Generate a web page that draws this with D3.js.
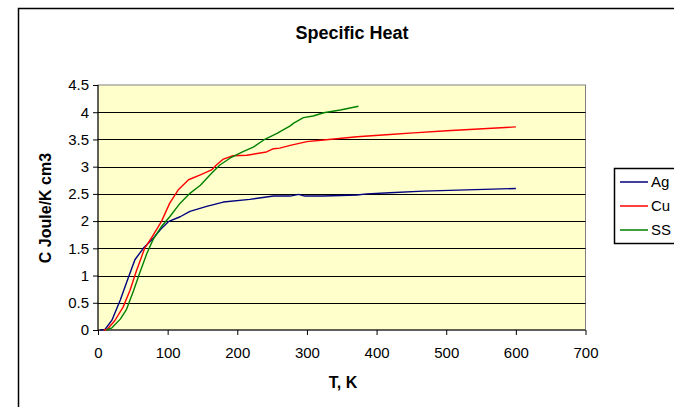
<!DOCTYPE html>
<html><head><meta charset="utf-8">
<script src="https://cdn.jsdelivr.net/npm/d3@7"></script>
<style>body{margin:0;background:#fff}svg{display:block}text{font-family:"Liberation Sans",Arial,sans-serif}</style>
</head><body>
<svg id="c" width="674" height="407"></svg>
<script>
const xTicks = [0,100,200,300,400,500,600,700];
const yTicks = [0,0.5,1,1.5,2,2.5,3,3.5,4,4.5];
const seriesNames = ["Ag","Cu","SS"];
const seriesColors = ["#000080","#FF0000","#008000"];
const agT = [3,10,20,32,44,53,65,79,90,101,118,132,156,180,218,252,276,288,297,324,372,386,419,467,600];
const agC = [0,0.01,0.18,0.55,0.98,1.29,1.50,1.68,1.85,1.99,2.08,2.18,2.27,2.35,2.40,2.46,2.46,2.49,2.46,2.46,2.48,2.50,2.52,2.55,2.60];
const cuT = [8,13,24,36,46,55,67,79,91,103,115,130,147,163,170,180,194,214,242,252,261,276,300,324,372,419,453,501,600];
const cuC = [0,0.01,0.17,0.42,0.73,1.08,1.50,1.74,1.99,2.33,2.57,2.76,2.85,2.94,3.03,3.14,3.20,3.21,3.27,3.33,3.34,3.39,3.46,3.49,3.55,3.59,3.62,3.66,3.73];
const ssT = [12,20,32,41,51,60,70,79,91,103,118,132,147,161,175,190,209,223,238,257,276,281,295,309,324,348,374];
const ssC = [0,0.04,0.20,0.38,0.72,1.05,1.40,1.66,1.90,2.08,2.33,2.51,2.66,2.85,3.03,3.16,3.28,3.36,3.49,3.61,3.75,3.80,3.90,3.93,3.99,4.04,4.11];

const series = [[agT,agC],[cuT,cuC],[ssT,ssC]].map((s,i)=>({name:seriesNames[i],color:seriesColors[i],pts:s[0].map((t,j)=>[t,s[1][j]])}));

const svg = d3.select("#c");
const L=98, R=585.5, T=85, B=330;
const x = d3.scaleLinear().domain([0,700]).range([L,R]);
const y = d3.scaleLinear().domain([0,4.5]).range([B,T]);

svg.append("rect").attr("x",18.5).attr("y",8.5).attr("width",700).attr("height",450)
  .attr("fill","#fff").attr("stroke","#000").attr("stroke-width",1.5);

svg.append("text").attr("x",352).attr("y",39).attr("text-anchor","middle")
  .attr("font-size",18).attr("font-weight","bold").text("Specific Heat");

svg.append("rect").attr("x",L).attr("y",T).attr("width",R-L).attr("height",B-T)
  .attr("fill","#FFFFCC").attr("stroke","#808080").attr("stroke-width",1);

svg.append("g").selectAll("line").data(yTicks.filter(d=>d>0&&d<4.5)).join("line")
  .attr("x1",L).attr("x2",R).attr("y1",d=>Math.round(y(d))+0.5).attr("y2",d=>Math.round(y(d))+0.5)
  .attr("stroke","#000").attr("stroke-width",1);

const yAxis = d3.axisLeft(y).tickValues(yTicks).tickSize(5).tickPadding(4).tickFormat(d3.format("~g"));
const gy = svg.append("g").attr("transform",`translate(${L},0)`).call(yAxis);
const xAxis = d3.axisBottom(x).tickValues(xTicks).tickSize(5).tickPadding(12).tickFormat(d3.format("d"));
const gx = svg.append("g").attr("transform",`translate(0,${B})`).call(xAxis);
[gx,gy].forEach(g=>{
  g.selectAll("path").attr("stroke","#000");
  g.selectAll("line").attr("stroke","#000");
  g.selectAll("text").attr("font-size",15).attr("fill","#000").attr("font-family","Liberation Sans, Arial, sans-serif");
});
gx.select(".domain").attr("d",`M${L},0H${R}`);
gy.select(".domain").attr("d",`M0,${B}V${T}`);

const line = d3.line().x(d=>x(d[0])).y(d=>y(d[1]));
svg.append("g").selectAll("path").data(series).join("path")
  .attr("d",d=>line(d.pts)).attr("fill","none").attr("stroke",d=>d.color).attr("stroke-width",1.4)
  .attr("stroke-linejoin","round");

svg.append("text").attr("transform","translate(51,208) rotate(-90)").attr("text-anchor","middle")
  .attr("font-size",16).attr("font-weight","bold").text("C Joule/K cm3");
svg.append("text").attr("x",343).attr("y",388).attr("text-anchor","middle")
  .attr("font-size",16).attr("font-weight","bold").text("T, K");

const lg = svg.append("g");
lg.append("rect").attr("x",614.5).attr("y",168.5).attr("width",80).attr("height",75)
  .attr("fill","#fff").attr("stroke","#000").attr("stroke-width",1.5);
const ly = d3.scalePoint().domain(seriesNames).range([182,230]);
const items = lg.selectAll("g").data(series).join("g").attr("transform",d=>`translate(0,${ly(d.name)})`);
items.append("line").attr("x1",620).attr("x2",648).attr("stroke",d=>d.color).attr("stroke-width",1.5);
items.append("text").attr("x",651).attr("y",5).attr("font-size",15).text(d=>d.name);
</script>
</body></html>
